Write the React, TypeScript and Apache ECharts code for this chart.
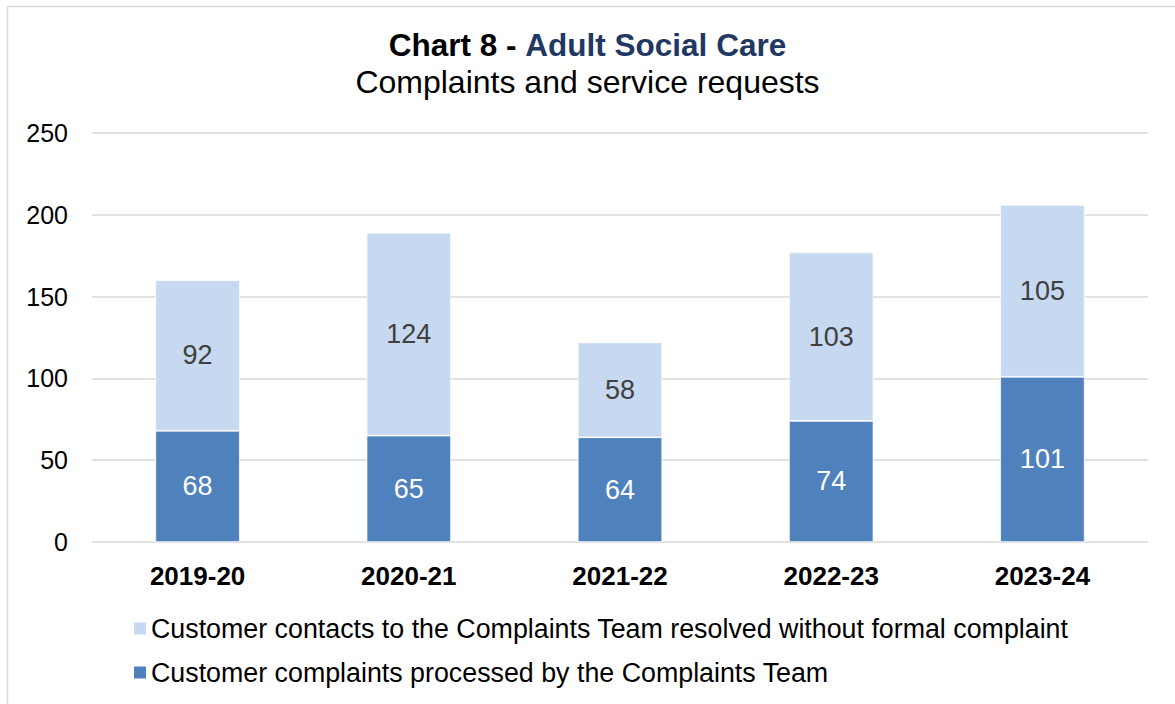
import React, { useEffect, useRef } from "react";
import * as echarts from "echarts";

const categories = ["2019-20", "2020-21", "2021-22", "2022-23", "2023-24"];
const complaints = [68, 65, 64, 74, 101];
const contacts = [92, 124, 58, 103, 105];
const yTicks = [0, 50, 100, 150, 200, 250];
const seriesNames = [
  "Customer contacts to the Complaints Team resolved without formal complaint",
  "Customer complaints processed by the Complaints Team",
];

const FONT = "'Liberation Sans', Arial, sans-serif";

export default function App() {
  const ref = useRef<HTMLDivElement>(null);
  useEffect(() => {
    const chart = echarts.init(ref.current!, null, { renderer: "svg" });
    chart.setOption({
      animation: false,
      backgroundColor: "#ffffff",
      textStyle: { fontFamily: FONT },
      title: {
        left: "center",
        top: 23,
        itemGap: 2,
        text: "{a|Chart 8 - }{b|Adult Social Care}",
        textStyle: {
          lineHeight: 34,
          rich: {
            a: { fontSize: 31.5, fontWeight: "bold", color: "#000000", fontFamily: FONT, lineHeight: 34 },
            b: { fontSize: 31.5, fontWeight: "bold", color: "#1f3864", fontFamily: FONT, lineHeight: 34 },
          },
        },
        subtext: "Complaints and service requests",
        subtextStyle: { fontSize: 32, color: "#000000", fontFamily: FONT, lineHeight: 36 },
      },
      graphic: [
        {
          type: "rect",
          shape: { x: 7.5, y: 6.5, width: 1200, height: 800 },
          style: { fill: "none", stroke: "#d9d9d9", lineWidth: 1.5 },
          silent: true,
          z: -1,
        },
      ],
      legend: {
        orient: "vertical",
        left: 127,
        top: 610,
        itemGap: 17,
        itemWidth: 14,
        itemHeight: 14,
        icon: "rect",
        textStyle: { fontSize: 26.8, color: "#000000", fontFamily: FONT, padding: [0, 0, 0, -1] },
        data: [seriesNames[0], seriesNames[1]],
      },
      grid: { left: 92, right: 27, top: 133, bottom: 162, containLabel: false },
      xAxis: {
        type: "category",
        data: categories,
        axisLine: { show: false },
        axisTick: { show: false },
        axisLabel: {
          fontSize: 26,
          fontWeight: "bold",
          color: "#000000",
          margin: 21,
          fontFamily: FONT,
        },
      },
      yAxis: {
        type: "value",
        min: yTicks[0],
        max: yTicks[yTicks.length - 1],
        interval: 50,
        axisLine: { show: false },
        axisTick: { show: false },
        splitLine: { lineStyle: { color: "#d9d9d9", width: 1.5 } },
        axisLabel: { fontSize: 25, color: "#000000", margin: 24, fontFamily: FONT },
      },
      series: [
        {
          name: seriesNames[1],
          type: "bar",
          stack: "total",
          data: complaints,
          barWidth: "40%",
          itemStyle: { color: "#4f81bd", borderColor: "#ffffff", borderWidth: 0.75 },
          label: {
            show: true,
            position: "inside",
            color: "#ffffff",
            fontSize: 27,
            fontFamily: FONT,
          },
        },
        {
          name: seriesNames[0],
          type: "bar",
          stack: "total",
          data: contacts,
          barWidth: "40%",
          itemStyle: { color: "#c6d9f1", borderColor: "#ffffff", borderWidth: 0.75 },
          label: {
            show: true,
            position: "inside",
            color: "#404040",
            fontSize: 27,
            fontFamily: FONT,
          },
        },
      ],
    });
    return () => chart.dispose();
  }, []);
  return (
    <div
      ref={ref}
      style={{ position: "absolute", left: 0, top: 0, width: 1175, height: 704 }}
    />
  );
}
